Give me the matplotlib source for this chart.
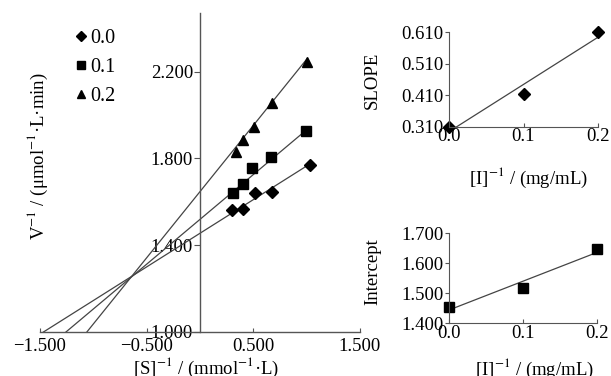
import numpy as np
import matplotlib
matplotlib.use("Agg")
import matplotlib.pyplot as plt
from matplotlib.ticker import FuncFormatter

plt.rcParams['font.family'] = ['Liberation Serif', 'DejaVu Serif']
plt.rcParams['mathtext.fontset'] = 'stix'

# ---- data ----
inhibitor = ["0.0", "0.1", "0.2"]
inv_I = [0.0, 0.1, 0.2]
markers = ["D", "s", "^"]

s_inv_00 = [0.297, 0.406, 0.516, 0.672, 1.031]
v_inv_00 = [1.562, 1.567, 1.639, 1.644, 1.770]
s_inv_01 = [0.312, 0.400, 0.490, 0.662, 0.994]
v_inv_01 = [1.639, 1.682, 1.754, 1.808, 1.926]
s_inv_02 = [0.334, 0.400, 0.506, 0.672, 1.006]
v_inv_02 = [1.831, 1.885, 1.946, 2.054, 2.246]

slopes = [0.310, 0.413, 0.610]
intercepts = [1.455, 1.519, 1.647]

main_xticks = [-1.5, -0.5, 0.5, 1.5]
main_yticks = [1.0, 1.4, 1.8, 2.2]
slope_yticks = [0.31, 0.41, 0.51, 0.61]
int_yticks = [1.4, 1.5, 1.6, 1.7]
small_xticks = [0.0, 0.1, 0.2]

series_x = [s_inv_00, s_inv_01, s_inv_02]
series_y = [v_inv_00, v_inv_01, v_inv_02]

W, H = 611, 376
fig = plt.figure(figsize=(W / 100, H / 100), dpi=100)

def px_axes(l, r, b, t):
    return fig.add_axes([l / W, 1 - b / H, (r - l) / W, (b - t) / H])

fs = 13.5
fmt3 = FuncFormatter(lambda v, p: ("%.3f" % v).replace("-", "\u2212"))
fmt1 = FuncFormatter(lambda v, p: "%.1f" % v)
axcol = "#555555"
linecol = "#444444"
msize = {"D": 6.5, "s": 7.0, "^": 7.5}

# ---- main plot ----
ax = px_axes(40, 360, 332, 13)
ax.set_xlim(-1.5, 1.5)
ax.set_ylim(1.0, 2.47)
for sp in ["top", "right"]:
    ax.spines[sp].set_visible(False)
ax.spines["left"].set_position(("data", 0))
ax.spines["bottom"].set_position(("data", 1.0))
for sp in ["left", "bottom"]:
    ax.spines[sp].set_color(axcol)
    ax.spines[sp].set_linewidth(1.0)

for i in range(3):
    m, b = slopes[i], intercepts[i]
    x0 = (1.0 - b) / m
    x1 = max(series_x[i])
    xs = np.array([x0, x1])
    ax.plot(xs, m * xs + b, color=linecol, lw=0.9)
    ax.plot(series_x[i], series_y[i], linestyle="none", marker=markers[i],
            color="black", ms=msize[markers[i]], label=inhibitor[i], clip_on=False)

ax.set_xticks(main_xticks)
ax.set_yticks(main_yticks)
ax.xaxis.set_major_formatter(fmt3)
ax.yaxis.set_major_formatter(fmt3)
ax.tick_params(axis="x", direction="in", length=3, labelsize=fs, pad=4, color=axcol)
ax.tick_params(axis="y", direction="out", length=4, labelsize=fs, pad=1, color=axcol)
ax.set_xlabel(r"[S]$^{-1}$ / (mmol$^{-1}$·L)", fontsize=fs)
ax.xaxis.set_label_coords(0.52, -0.075)
ax.set_ylabel(r"V$^{-1}$ / (μmol$^{-1}$·L·min)", fontsize=fs)
ax.yaxis.set_label_coords(0.03, 0.55)
leg = ax.legend(loc="upper left", bbox_to_anchor=(0.07, 0.975), frameon=False,
                fontsize=14.5, handletextpad=0.0, labelspacing=0.5,
                handlelength=1.0, borderaxespad=0, markerscale=0.85)

# ---- small plots ----
def small_axes(axs):
    for sp in ["top", "right"]:
        axs.spines[sp].set_visible(False)
    for sp in ["left", "bottom"]:
        axs.spines[sp].set_color(axcol)
    axs.set_xlim(0, 0.2)
    axs.set_xticks(small_xticks)
    axs.xaxis.set_major_formatter(fmt1)
    axs.yaxis.set_major_formatter(fmt3)
    axs.tick_params(axis="x", direction="in", length=3, labelsize=fs, pad=1, color=axcol)
    axs.tick_params(axis="y", direction="out", length=3, labelsize=fs, pad=1, color=axcol)

xf = np.array([0.0, 0.2])

ax2 = px_axes(449, 598, 126.7, 32.3)
small_axes(ax2)
ax2.set_ylim(0.31, 0.61)
ax2.set_yticks(slope_yticks)
k, c = np.polyfit(inv_I, slopes, 1)
ax2.plot(xf, k * xf + c, color=linecol, lw=0.9)
ax2.plot(inv_I, slopes, linestyle="none", marker="D", color="black", ms=6.5, clip_on=False)
ax2.set_ylabel("SLOPE", fontsize=fs)
ax2.yaxis.set_label_coords(-0.46, 0.49)
ax2.set_xlabel(r"[I]$^{-1}$ / (mg/mL)", fontsize=fs)
ax2.xaxis.set_label_coords(0.53, -0.42)

ax3 = px_axes(449, 597, 323.3, 233.3)
small_axes(ax3)
ax3.set_ylim(1.4, 1.7)
ax3.set_yticks(int_yticks)
k, c = np.polyfit(inv_I, intercepts, 1)
ax3.plot(xf, k * xf + c, color=linecol, lw=0.9)
ax3.plot(inv_I, intercepts, linestyle="none", marker="s", color="black", ms=7, clip_on=False)
ax3.set_ylabel("Intercept", fontsize=fs)
ax3.yaxis.set_label_coords(-0.46, 0.57)
ax3.set_xlabel(r"[I]$^{-1}$ / (mg/mL)", fontsize=fs)
ax3.xaxis.set_label_coords(0.58, -0.37)

fig.savefig("out.png", dpi=100)
